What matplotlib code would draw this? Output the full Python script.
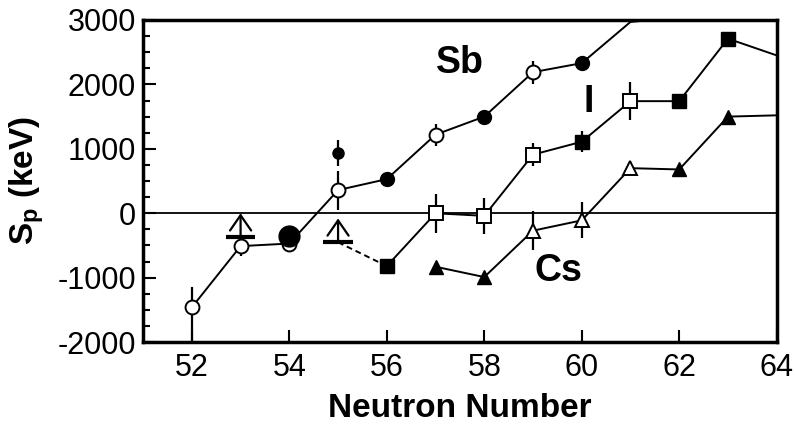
import matplotlib
matplotlib.use("Agg")
import matplotlib.pyplot as plt
import numpy as np

plt.rcParams['font.family'] = ['Liberation Sans', 'DejaVu Sans']
plt.rcParams['axes.unicode_minus'] = False
plt.rcParams['mathtext.fontset'] = 'custom'
plt.rcParams['mathtext.bf'] = 'Liberation Sans:bold'
plt.rcParams['mathtext.rm'] = 'Liberation Sans'

# Sb (Z=51) proton separation energies
sb_line_n = [52, 53, 54, 55, 56, 57, 58, 59, 60, 61, 62]
sb_line_v = [-1460, -510, -470, 360, 530, 1220, 1500, 2190, 2330, 2970, 3040]
sb_open_n = [52, 53, 54, 55, 57, 59]
sb_open_v = [-1460, -510, -470, 360, 1220, 2190]
sb_open_err_lo = [560, 150, 60, 310, 170, 180]
sb_open_err_hi = [320, 150, 60, 300, 170, 180]
sb_fill_n = [56, 58, 60]
sb_fill_v = [530, 1500, 2330]
sb_big_n = [54]
sb_big_v = [-360]
sb_extra_n = [55]
sb_extra_v = [930]
sb_extra_err = [200]

# I (Z=53)
i_line_n = [56, 57, 58, 59, 60, 61, 62, 63, 64]
i_line_v = [-820, 0, -40, 910, 1110, 1740, 1740, 2710, 2450]
i_open_n = [57, 58, 59, 61]
i_open_v = [0, -40, 910, 1740]
i_open_err = [300, 280, 180, 300]
i_fill_n = [56, 60, 62, 63]
i_fill_v = [-820, 1110, 1740, 2710]
i_fill_err = [0, 160, 0, 0]

# Cs (Z=55)
cs_line_n = [57, 58, 59, 60, 61, 62, 63, 64]
cs_line_v = [-830, -990, -270, -110, 700, 680, 1500, 1520]
cs_open_n = [59, 60, 61]
cs_open_v = [-270, -110, 700]
cs_open_err = [300, 280, 0]
cs_fill_n = [57, 58, 62, 63]
cs_fill_v = [-830, -990, 680, 1500]

# lower limits (Sb)
lim_n = [53, 55]
lim_v = [-375, -450]
lim_top = [0, -80]

xticks = [52, 54, 56, 58, 60, 62, 64]
yticks = [-2000, -1000, 0, 1000, 2000, 3000]
ytick_labels = ['-2000', '-1000', '0', '1000', '2000', '3000']

fig = plt.figure(figsize=(7.95, 4.25), dpi=100)
ax = fig.add_axes([0.18, 0.195, 0.797, 0.758])

lw = 1.4
ax.axhline(0, color='black', lw=1.3, zorder=1)

# lines
ax.plot(sb_line_n, sb_line_v, color='black', lw=lw, zorder=2)
ax.plot(i_line_n, i_line_v, color='black', lw=lw, zorder=2)
ax.plot(cs_line_n, cs_line_v, color='black', lw=lw, zorder=2)
# dashed link between limit at 55 and I at 56
ax.plot([lim_n[1], i_fill_n[0]], [lim_v[1], i_fill_v[0]], color='black', lw=lw, ls=(0, (3, 2)), zorder=2)

ew = 1.6
ax.errorbar(sb_open_n, sb_open_v, yerr=[sb_open_err_lo, sb_open_err_hi], fmt='none', ecolor='black', elinewidth=ew, zorder=3)
ax.errorbar(sb_extra_n, sb_extra_v, yerr=sb_extra_err, fmt='none', ecolor='black', elinewidth=ew, zorder=3)
ax.errorbar(i_open_n, i_open_v, yerr=i_open_err, fmt='none', ecolor='black', elinewidth=ew, zorder=3)
ax.errorbar(i_fill_n, i_fill_v, yerr=i_fill_err, fmt='none', ecolor='black', elinewidth=ew, zorder=3)
ax.errorbar(cs_open_n, cs_open_v, yerr=cs_open_err, fmt='none', ecolor='black', elinewidth=ew, zorder=3)

# markers
ax.plot(sb_open_n, sb_open_v, 'o', ms=10, mfc='white', mec='black', mew=1.4, ls='none', zorder=4)
ax.plot(sb_fill_n, sb_fill_v, 'o', ms=10, color='black', ls='none', zorder=4)
ax.plot(sb_big_n, sb_big_v, 'o', ms=15, color='black', ls='none', zorder=5)
ax.plot(sb_extra_n, sb_extra_v, 'o', ms=8, color='black', ls='none', zorder=4)
ax.plot(i_open_n, i_open_v, 's', ms=10, mfc='white', mec='black', mew=1.4, ls='none', zorder=4)
ax.plot(i_fill_n, i_fill_v, 's', ms=10, color='black', ls='none', zorder=4)
ax.plot(cs_open_n, cs_open_v, '^', ms=10.5, mfc='white', mec='black', mew=1.4, ls='none', zorder=4)
ax.plot(cs_fill_n, cs_fill_v, '^', ms=10.5, color='black', ls='none', zorder=4)

# lower-limit markers
for n, v, t in zip(lim_n, lim_v, lim_top):
    ax.plot([n - 0.3, n + 0.3], [v, v], color='black', lw=3, solid_capstyle='butt', zorder=4)
    ax.annotate('', xy=(n, t), xytext=(n, v), zorder=4,
                arrowprops=dict(arrowstyle='->,head_length=0.55,head_width=0.38', color='black',
                                lw=1.6, mutation_scale=20, shrinkA=0, shrinkB=0))

# labels
ax.text(57.5, 2330, 'Sb', fontsize=27, fontweight='bold', ha='center', va='center')
ax.text(60.14, 1720, 'I', fontsize=27, fontweight='bold', ha='center', va='center')
ax.text(59.52, -900, 'Cs', fontsize=27, fontweight='bold', ha='center', va='center')

ax.set_xlim(51, 64)
ax.set_ylim(-2000, 3000)
ax.set_xticks(xticks)
ax.set_yticks(yticks)
ax.set_yticklabels(ytick_labels)
ax.set_yticks(np.arange(-2000, 3001, 250), minor=True)
ax.tick_params(axis='both', which='major', direction='in', length=9, width=1.5, labelsize=22)
ax.tick_params(axis='y', which='minor', direction='in', length=5, width=1.5)
ax.tick_params(axis='x', which='major', pad=8)
ax.tick_params(axis='y', which='major', pad=5)
for s in ax.spines.values():
    s.set_linewidth(2.5)

ax.set_xlabel('Neutron Number', fontsize=24, fontweight='bold', labelpad=7)
ax.set_ylabel(r'$\mathbf{S_p}$ (keV)', fontsize=24, fontweight='bold', labelpad=8)

fig.savefig('out.png', dpi=100)
